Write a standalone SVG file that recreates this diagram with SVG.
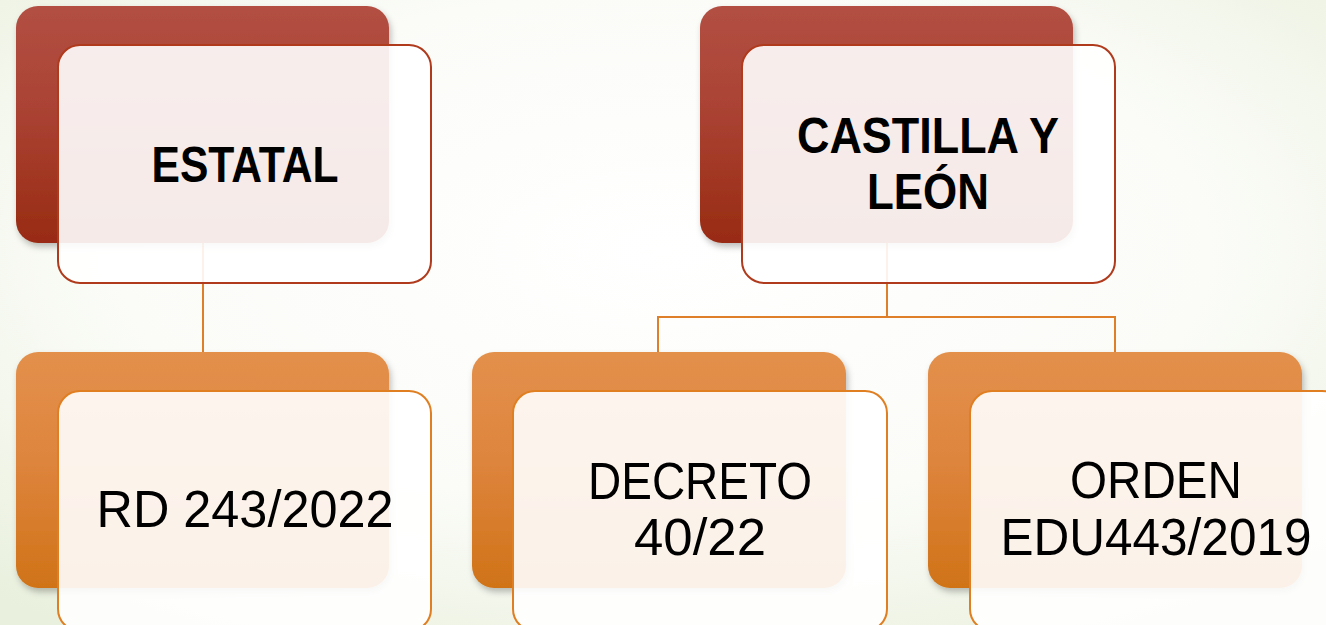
<svg xmlns="http://www.w3.org/2000/svg" width="1326" height="625" viewBox="0 0 1326 625">
<defs>
<radialGradient id="bg" cx="0.5" cy="0.4" r="0.75">
<stop offset="0" stop-color="#ffffff"/>
<stop offset="0.55" stop-color="#fbfcf8"/>
<stop offset="1" stop-color="#e9f0dd"/>
</radialGradient>
<linearGradient id="red" x1="0" y1="0" x2="0" y2="1">
<stop offset="0" stop-color="#b25043"/>
<stop offset="0.45" stop-color="#aa4233"/>
<stop offset="1" stop-color="#982b12"/>
</linearGradient>
<linearGradient id="orange" x1="0" y1="0" x2="0" y2="1">
<stop offset="0" stop-color="#e3904c"/>
<stop offset="0.45" stop-color="#de853e"/>
<stop offset="1" stop-color="#d07318"/>
</linearGradient>
<filter id="sh" x="-10%" y="-10%" width="125%" height="130%">
<feDropShadow dx="2" dy="4" stdDeviation="3" flood-color="#000" flood-opacity="0.25"/>
</filter>
</defs>
<style>
.backR{fill:url(#red);filter:url(#sh)}
.backO{fill:url(#orange);filter:url(#sh)}
.frontR{fill:#ffffff;fill-opacity:0.9;stroke:#b03a1c;stroke-width:2}
.frontO{fill:#ffffff;fill-opacity:0.9;stroke:#e07f22;stroke-width:2}
.conn{fill:none;stroke:#e07f2a;stroke-width:2}
.tb{font-family:"Liberation Sans",Arial,sans-serif;font-weight:bold;font-size:50px;fill:#000;text-anchor:middle}
.tr{font-family:"Liberation Sans",Arial,sans-serif;font-size:51px;fill:#000;text-anchor:middle}
</style>
<rect width="1326" height="625" fill="url(#bg)"/>
<g id="connectors">
<path class="conn" d="M203 243 V352"/>
<path class="conn" d="M887 243 V317 M658 352 V317 H1115 V352"/>
</g>
<g id="node-estatal">
<rect class="backR" x="16" y="6" width="373" height="237" rx="22"/>
<rect class="frontR" x="58" y="45" width="373" height="238" rx="22"/>
<text class="tb" x="245" y="182" textLength="187" lengthAdjust="spacingAndGlyphs">ESTATAL</text>
</g>
<g id="node-cyl">
<rect class="backR" x="700" y="6" width="373" height="237" rx="22"/>
<rect class="frontR" x="742" y="45" width="373" height="238" rx="22"/>
<text class="tb" x="928" y="153" textLength="262" lengthAdjust="spacingAndGlyphs">CASTILLA Y</text>
<text class="tb" x="928" y="209" textLength="122" lengthAdjust="spacingAndGlyphs">LEÓN</text>
</g>
<g id="node-rd">
<rect class="backO" x="16" y="352" width="373" height="236" rx="22"/>
<rect class="frontO" x="58" y="391" width="373" height="240" rx="22"/>
<text class="tr" x="245" y="527" textLength="297" lengthAdjust="spacingAndGlyphs">RD 243/2022</text>
</g>
<g id="node-decreto">
<rect class="backO" x="472" y="352" width="374" height="236" rx="22"/>
<rect class="frontO" x="513" y="391" width="374" height="240" rx="22"/>
<text class="tr" x="700" y="499" textLength="224" lengthAdjust="spacingAndGlyphs">DECRETO</text>
<text class="tr" x="700" y="555" textLength="132" lengthAdjust="spacingAndGlyphs">40/22</text>
</g>
<g id="node-orden">
<rect class="backO" x="928" y="352" width="374" height="236" rx="22"/>
<rect class="frontO" x="970" y="391" width="374" height="240" rx="22"/>
<text class="tr" x="1156" y="498" textLength="172" lengthAdjust="spacingAndGlyphs">ORDEN</text>
<text class="tr" x="1156" y="555" textLength="311" lengthAdjust="spacingAndGlyphs">EDU443/2019</text>
</g>
</svg>
